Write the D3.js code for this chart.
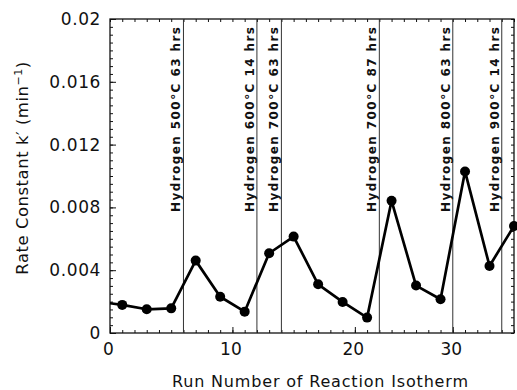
<html>
<head>
<script src="https://d3js.org/d3.v7.min.js"></script>
<style>
body { margin: 0; background: #fff; }
svg { display: block; }
.tick text { font-family: "DejaVu Sans", sans-serif; }
</style>
</head>
<body>
<script>
// run numbers and rate constants (run -1 sits left of the frame, only its segment shows)
let runs = [-1, 1, 3, 5, 7, 9, 11, 13, 15, 17, 19, 21, 23, 25, 27, 29, 31, 33];
let rates = [0.0020, 0.00179, 0.00151, 0.00157, 0.00461, 0.00231, 0.00136, 0.00508, 0.00614,
             0.0031, 0.00198, 0.00098, 0.00842, 0.00302, 0.00215, 0.01029, 0.00427, 0.00682];

// hydrogen treatments between runs
let treatRuns = [6, 12, 14, 22, 28, 32];
let treatLabels = ["Hydrogen 500\u00B0C 63 hrs", "Hydrogen 600\u00B0C 14 hrs", "Hydrogen 700\u00B0C 63 hrs",
                   "Hydrogen 700\u00B0C 87 hrs", "Hydrogen 800\u00B0C 63 hrs", "Hydrogen 900\u00B0C 14 hrs"];

let xTicks = [0, 10, 20, 28];
let xTickLabels = ["0", "10", "20", "30"];
let yTicks = [0, 0.004, 0.008, 0.012, 0.016, 0.02];
let yTickLabels = ["0", "0.004", "0.008", "0.012", "0.016", "0.02"];

let width = 517, height = 390;
let pLeft = 110, pRight = 514, pTop = 19, pBottom = 333;

let svg = d3.select("body").append("svg").attr("width", width).attr("height", height);

let x = d3.scaleLinear().domain([0, 33]).range([pLeft, pRight]);
let y = d3.scaleLinear().domain([0, 0.02]).range([pBottom, pTop]);

// minor ticks
let xMinor = d3.range(0, 34, 1);
let yMinor = d3.range(0, 0.02001, 0.0005);

function styleAxis(g) {
    g.select(".domain").remove();
    g.selectAll(".tick line").attr("stroke", "#111").attr("stroke-width", 1);
}

svg.append("g").attr("transform", `translate(0,${pBottom})`)
    .call(d3.axisBottom(x).tickValues(xMinor).tickSize(-3).tickFormat(""))
    .call(styleAxis);
svg.append("g").attr("transform", `translate(0,${pTop})`)
    .call(d3.axisTop(x).tickValues(xMinor).tickSize(-3).tickFormat(""))
    .call(styleAxis);
svg.append("g").attr("transform", `translate(${pLeft},0)`)
    .call(d3.axisLeft(y).tickValues(yMinor).tickSize(-3).tickFormat(""))
    .call(styleAxis);
svg.append("g").attr("transform", `translate(${pRight},0)`)
    .call(d3.axisRight(y).tickValues(yMinor).tickSize(-3).tickFormat(""))
    .call(styleAxis);

// major ticks with labels
svg.append("g").attr("transform", `translate(0,${pBottom})`)
    .call(d3.axisBottom(x).tickValues(xTicks).tickSize(-6).tickPadding(10)
        .tickFormat((d, i) => xTickLabels[i]))
    .call(styleAxis)
    .selectAll("text").attr("font-size", 17).attr("fill", "#111").attr("dx", -2);
svg.append("g").attr("transform", `translate(${pLeft},0)`)
    .call(d3.axisLeft(y).tickValues(yTicks).tickSize(-6).tickPadding(9)
        .tickFormat((d, i) => yTickLabels[i]))
    .call(styleAxis)
    .selectAll("text").attr("font-size", 17).attr("fill", "#111").attr("letter-spacing", 0.6);

// frame
svg.append("rect")
    .attr("x", pLeft).attr("y", pTop)
    .attr("width", pRight - pLeft).attr("height", pBottom - pTop)
    .attr("fill", "none").attr("stroke", "#111").attr("stroke-width", 1.3);

// treatment lines and labels
svg.append("g").selectAll("line")
    .data(treatRuns)
    .enter()
    .append("line")
    .attr("x1", d => x(d)).attr("x2", d => x(d))
    .attr("y1", pTop).attr("y2", pBottom)
    .attr("stroke", "#333").attr("stroke-width", 1);

svg.append("g").selectAll("text")
    .data(treatLabels)
    .enter()
    .append("text")
    .attr("transform", (d, i) => `translate(${x(treatRuns[i]) - 3},212) rotate(-90)`)
    .attr("font-family", "DejaVu Sans, sans-serif")
    .attr("font-weight", "bold")
    .attr("font-size", 12)
    .attr("textLength", 185)
    .attr("lengthAdjust", "spacing")
    .attr("fill", "#111")
    .text(d => d);

// data line and points
svg.append("clipPath").attr("id", "clip")
    .append("rect").attr("x", pLeft).attr("y", 0).attr("width", width - pLeft).attr("height", height);

let pts = runs.map((r, i) => [r, rates[i]]);
let plot = svg.append("g").attr("clip-path", "url(#clip)");
plot.append("path")
    .datum(pts)
    .attr("d", d3.line().x(d => x(d[0])).y(d => y(d[1])))
    .attr("fill", "none")
    .attr("stroke", "#000")
    .attr("stroke-width", 2.7)
    .attr("stroke-linejoin", "round");
plot.selectAll("circle")
    .data(pts)
    .enter()
    .append("circle")
    .attr("cx", d => x(d[0]))
    .attr("cy", d => y(d[1]))
    .attr("r", 5)
    .attr("fill", "#000");

// axis titles
svg.append("text")
    .attr("x", 320).attr("y", 387)
    .attr("text-anchor", "middle")
    .attr("font-family", "DejaVu Sans, sans-serif")
    .attr("font-size", 16)
    .attr("textLength", 296)
    .attr("fill", "#111")
    .text("Run Number of Reaction Isotherm");

let yt = svg.append("text")
    .attr("transform", "translate(28,168) rotate(-90)")
    .attr("text-anchor", "middle")
    .attr("font-family", "DejaVu Sans, sans-serif")
    .attr("font-size", 16.5)
    .attr("letter-spacing", 0.5)
    .attr("fill", "#111");
yt.append("tspan").text("Rate Constant k\u2032 (min");
yt.append("tspan").attr("dy", -6).attr("font-size", 11).text("\u22121");
yt.append("tspan").attr("dy", 6).text(")");
</script>
</body>
</html>
